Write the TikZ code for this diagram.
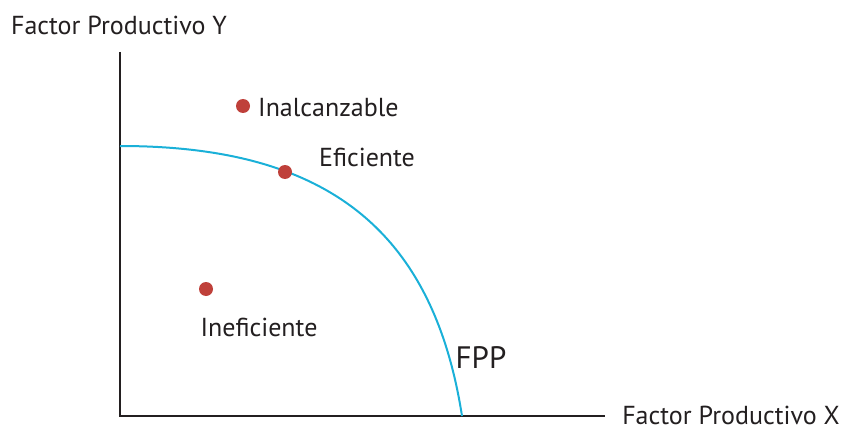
\documentclass[tikz,border=0pt]{standalone}
\usepackage{fontspec}
\setmainfont{PT Sans}
\usepackage{xcolor}
\usetikzlibrary{positioning,calc}
\definecolor{dotred}{HTML}{BF403A}
\definecolor{fppblue}{HTML}{1AB0D8}
\definecolor{axisgray}{HTML}{231F20}
\begin{document}
\begin{tikzpicture}[
    x=1pt, y=1pt,
    axis/.style={draw=axisgray, line width=2pt},
    frontier/.style={draw=fppblue, line width=2pt},
    dot/.style={circle, fill=dotred, inner sep=0pt, minimum size=14pt},
    label/.style={text=axisgray, font=\fontsize{26}{30}\selectfont, inner sep=0pt},
    biglabel/.style={text=axisgray, font=\fontsize{31}{36}\selectfont, inner sep=0pt}
]
    \useasboundingbox (0,0) rectangle (846,432);
    % axes
    \coordinate (origin) at (120,16);
    \coordinate (ytop) at (120,380);
    \coordinate (xend) at (605,16);
    \draw[axis] (ytop) -- (origin) -- (xend);
    \node[label] (ylabel) at (119,407) {Factor Productivo Y};
    \node[label] (xlabel) at (731,17) {Factor Productivo X};
    
    % frontier
    \coordinate (fppstart) at (120,286);
    \coordinate (fppend) at (462,16);
    \draw[frontier] (fppstart) .. controls (320,286) and (432,208) .. (fppend);
    \node[biglabel] (fpp) at (481,74) {FPP};
    
    % points
    \node[dot] (unreach) at (243,326) {};
    \node[dot] (eff) at (285,260) {};
    \node[dot] (ineff) at (206,143) {};
    \node[label, anchor=west] (unreachlabel) at (258,324) {Inalcanzable};
    \node[label] (efflabel) at (367,275) {Eficiente};
    \node[label] (inefflabel) at (259,105) {Ineficiente};
\end{tikzpicture}
\end{document}
